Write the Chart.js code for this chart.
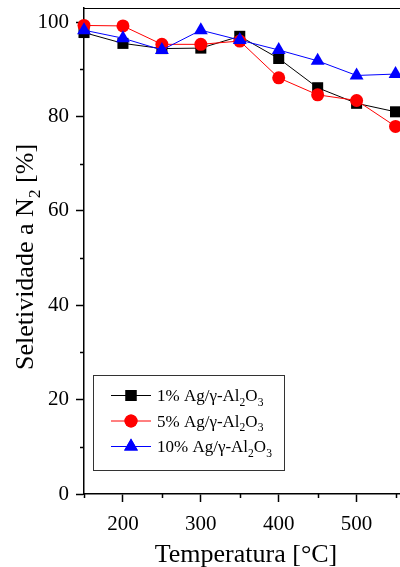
<!DOCTYPE html>
<html>
<head>
<meta charset="utf-8">
<script src="https://cdn.jsdelivr.net/npm/chart.js@4.4.0/dist/chart.umd.min.js"></script>
<style>
  html, body { margin: 0; padding: 0; background: #fff; overflow: hidden; }
  #wrap { width: 408px; height: 567px; }
</style>
</head>
<body>
<div id="wrap"><canvas id="seletividade" width="408" height="567"></canvas></div>
<script>
// dados
var temperaturas = [150, 200, 250, 300, 350, 400, 450, 500, 550];
var ag1 = [97.8, 95.5, 94.4, 94.5, 97.0, 92.3, 86.1, 82.8, 81.0];
var ag5 = [99.3, 99.2, 95.3, 95.3, 96.0, 88.2, 84.6, 83.4, 77.9];
var ag10 = [98.3, 96.6, 94.1, 98.3, 96.2, 94.1, 91.8, 88.7, 89.0];
// "_x" = x em subscrito
var nomes = ['1% Ag/γ-Al_2O_3', '5% Ag/γ-Al_2O_3', '10% Ag/γ-Al_2O_3'];
var xTicks = [200, 300, 400, 500];
var xMinor = [150, 250, 350, 450, 550];
var yTicks = [0, 20, 40, 60, 80, 100];
var yMinor = [10, 30, 50, 70, 90];
var tituloX = 'Temperatura [°C]';
var tituloY = 'Seletividade a N_2 [%]';

var FONTE = '"Liberation Serif", "Times New Roman", serif';

// escreve texto com subscrito, retorna largura
function textoSub(ctx, txt, x, y, size, draw){
  var w = 0;
  for (var i = 0; i < txt.length; i++) {
    var c = txt[i], sub = false;
    if (c === '_' && i + 1 < txt.length) { c = txt[++i]; sub = true; }
    var s = sub ? size * 0.68 : size;
    ctx.font = s + 'px ' + FONTE;
    if (draw) ctx.fillText(c, x + w, y + (sub ? size * 0.28 : 0));
    w += ctx.measureText(c).width;
  }
  return w;
}

var moldura = {
  id: 'moldura',
  afterDraw: function(chart){
    var ctx = chart.ctx, a = chart.chartArea;
    ctx.save();
    ctx.strokeStyle = '#000';
    ctx.lineWidth = 1;
    ctx.beginPath();
    ctx.moveTo(a.left, a.top + 0.5);
    ctx.lineTo(a.right - 0.5, a.top + 0.5);
    ctx.lineTo(a.right - 0.5, a.bottom);
    ctx.stroke();

    // ticks menores
    var sx = chart.scales.x, sy = chart.scales.y;
    ctx.lineWidth = 1.5;
    ctx.beginPath();
    xMinor.forEach(function(v){
      var px = Math.round(sx.getPixelForValue(v)) + 0.5;
      ctx.moveTo(px, a.bottom);
      ctx.lineTo(px, a.bottom + 4);
    });
    yMinor.forEach(function(v){
      var py = Math.round(sy.getPixelForValue(v)) + 0.5;
      ctx.moveTo(a.left, py);
      ctx.lineTo(a.left - 4, py);
    });
    ctx.stroke();

    // titulo Y com subscrito
    ctx.fillStyle = '#000';
    ctx.textBaseline = 'alphabetic';
    ctx.translate(33, 257);
    ctx.rotate(-Math.PI / 2);
    var w = textoSub(ctx, tituloY, 0, 0, 26, false);
    textoSub(ctx, tituloY, -w / 2, 0, 26, true);
    ctx.restore();

    // legenda
    ctx.save();
    ctx.strokeStyle = '#333';
    ctx.lineWidth = 1;
    ctx.strokeRect(93.5, 375.5, 191, 95);
    chart.data.datasets.forEach(function(ds, i){
      var yy = 395 + i * 25.5;
      ctx.strokeStyle = ds.borderColor;
      ctx.lineWidth = 1;
      ctx.beginPath();
      ctx.moveTo(111, yy + 0.5);
      ctx.lineTo(151, yy + 0.5);
      ctx.stroke();
      ctx.fillStyle = ds.backgroundColor;
      Chart.helpers.drawPoint(ctx, {pointStyle: ds.pointStyle, radius: ds.pointRadius, rotation: 0, borderWidth: 0}, 131, yy + 0.5);
      ctx.fill();
      ctx.fillStyle = '#000';
      ctx.textBaseline = 'alphabetic';
      textoSub(ctx, ds.label, 157, yy + 6, 17, true);
    });
    ctx.restore();
  }
};

function serie(label, dados, cor, estilo, raio, ordem){
  return {
    label: label,
    data: temperaturas.map(function(t, i){ return {x: t, y: dados[i]}; }),
    borderColor: cor,
    backgroundColor: cor,
    borderWidth: 1,
    pointStyle: estilo,
    pointRadius: raio,
    pointHoverRadius: raio,
    pointBorderWidth: 0,
    tension: 0,
    clip: false,
    order: ordem
  };
}

new Chart(document.getElementById('seletividade'), {
  type: 'line',
  data: {
    datasets: [
      serie(nomes[0], ag1, '#000000', 'rect', 7.8, 3),
      serie(nomes[1], ag5, '#ff0000', 'circle', 6.5, 2),
      serie(nomes[2], ag10, '#0000ff', 'triangle', 8, 1)
    ]
  },
  plugins: [moldura],
  options: {
    responsive: false,
    animation: false,
    events: [],
    layout: { autoPadding: false, padding: { top: 8, right: 0, left: 0, bottom: 0 } },
    plugins: { legend: { display: false }, tooltip: { enabled: false } },
    scales: {
      x: {
        type: 'linear', min: 150, max: 566,
        afterBuildTicks: function(s){ s.ticks = xTicks.map(function(v){ return {value: v}; }); },
        afterFit: function(s){ s.height = 73; s.paddingLeft = 0; s.paddingRight = 0; },
        ticks: { font: { family: FONTE, size: 21 }, color: '#000', padding: 10, maxRotation: 0 },
        grid: { drawOnChartArea: false, tickLength: 8, tickColor: '#000', tickWidth: 1.5 },
        border: { color: '#000', width: 1.5 },
        title: { display: true, text: tituloX, color: '#000', font: { family: FONTE, size: 26 }, padding: { top: 0, bottom: -4 } }
      },
      y: {
        min: 0, max: 103,
        afterBuildTicks: function(s){ s.ticks = yTicks.map(function(v){ return {value: v}; }); },
        afterFit: function(s){ s.width = 84; s.paddingTop = 0; s.paddingBottom = 0; },
        ticks: { font: { family: FONTE, size: 21 }, color: '#000', padding: 7 },
        grid: { drawOnChartArea: false, tickLength: 8, tickColor: '#000', tickWidth: 1.5 },
        border: { color: '#000', width: 1.5 }
      }
    }
  }
});
</script>
</body>
</html>
